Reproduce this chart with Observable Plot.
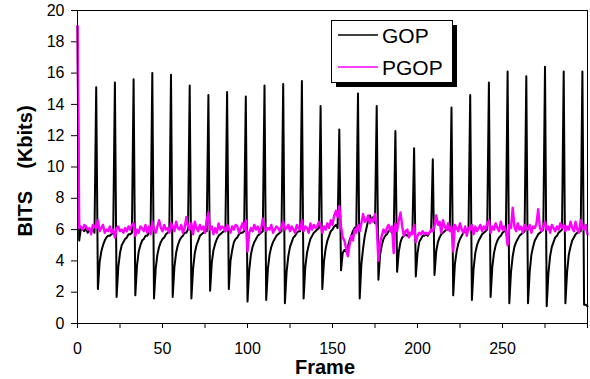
<!DOCTYPE html>
<html>
<head>
<meta charset="utf-8">
<script src="https://cdn.jsdelivr.net/npm/d3@7"></script>
<script src="https://cdn.jsdelivr.net/npm/@observablehq/plot@0.6"></script>
<style>
  html, body { margin: 0; padding: 0; background: white; }
  #chart { width: 590px; height: 379px; }
</style>
</head>
<body>
<div id="chart"></div>
<script>
// Bits per frame (Kbits), frames 0..300, one row per GOP of 11 frames
const gop = [
  19.0, 5.3, 6.1, 6.0, 5.9, 6.1, 5.8, 6.0, 5.9, 6.0, 5.8,
  15.1, 2.2, 3.9, 4.6, 5.0, 5.3, 5.5, 5.6, 5.6, 5.7, 5.8,
  15.4, 1.7, 3.6, 4.5, 5.0, 5.2, 5.4, 5.5, 5.7, 5.7, 5.8,
  15.6, 1.8, 3.7, 4.6, 5.0, 5.3, 5.4, 5.6, 5.6, 5.8, 5.8,
  16.0, 1.6, 3.5, 4.4, 4.9, 5.2, 5.4, 5.5, 5.7, 5.8, 5.9,
  15.9, 1.7, 3.6, 4.5, 5.0, 5.3, 5.5, 5.6, 5.8, 5.8, 6.0,
  15.2, 1.6, 3.5, 4.5, 5.0, 5.3, 5.6, 5.7, 5.8, 5.9, 5.9,
  14.6, 2.1, 3.9, 4.7, 5.1, 5.4, 5.6, 5.7, 5.8, 5.9, 5.9,
  14.8, 2.2, 4.0, 4.7, 5.2, 5.4, 5.5, 5.7, 5.8, 5.8, 5.9,
  14.5, 1.4, 3.4, 4.4, 4.9, 5.2, 5.4, 5.6, 5.7, 5.8, 5.9,
  15.2, 1.5, 3.5, 4.4, 4.9, 5.2, 5.4, 5.6, 5.7, 5.8, 5.9,
  15.3, 1.3, 3.3, 4.3, 4.9, 5.2, 5.5, 5.6, 5.8, 5.9, 5.9,
  15.5, 1.6, 3.6, 4.5, 5.0, 5.4, 5.6, 5.8, 5.9, 6.0, 6.1,
  13.9, 2.2, 4.0, 4.8, 5.3, 5.6, 5.9, 6.0, 6.2, 6.3, 6.1,
  12.4, 3.4, 4.5, 4.7, 4.6, 4.9, 5.3, 5.6, 5.9, 6.1, 6.2,
  14.7, 1.6, 3.8, 4.8, 5.6, 6.1, 6.6, 6.9, 6.6, 6.8, 6.4,
  13.9, 2.8, 4.4, 5.0, 5.4, 5.6, 5.7, 5.9, 6.0, 5.8, 5.6,
  12.3, 3.3, 4.6, 5.2, 5.5, 5.6, 5.7, 5.6, 5.8, 5.7, 5.8,
  11.2, 3.0, 4.5, 5.2, 5.4, 5.6, 5.6, 5.7, 5.6, 5.8, 5.9,
  10.5, 3.1, 4.6, 5.2, 5.5, 5.7, 5.8, 5.9, 6.0, 6.0, 6.1,
  13.8, 1.8, 3.8, 4.6, 5.1, 5.4, 5.6, 5.8, 5.9, 6.0, 6.0,
  14.6, 1.5, 3.5, 4.5, 5.0, 5.3, 5.5, 5.7, 5.8, 5.9, 6.0,
  15.4, 1.7, 3.6, 4.5, 5.0, 5.3, 5.5, 5.6, 5.8, 5.9, 5.9,
  16.1, 1.3, 3.3, 4.3, 4.9, 5.2, 5.4, 5.6, 5.7, 5.8, 5.9,
  15.8, 1.3, 3.3, 4.4, 4.9, 5.3, 5.5, 5.7, 5.8, 5.9, 6.0,
  16.4, 1.1, 3.2, 4.3, 4.9, 5.2, 5.5, 5.6, 5.8, 5.9, 6.0,
  16.1, 1.3, 3.3, 4.4, 4.9, 5.3, 5.5, 5.7, 5.8, 5.9, 5.9,
  16.1, 1.2, 1.2, 1.1
];
const pgop = [
  19.0, 6.1, 6.2, 6.0, 6.3, 6.2, 6.0, 6.1, 5.7, 6.3, 6.2,
  6.1, 6.6, 5.9, 6.1, 6.3, 5.8, 6.0, 5.9, 6.2, 5.8, 6.0,
  5.5, 6.1, 6.2, 5.9, 6.0, 5.8, 6.1, 5.9, 6.2, 6.0, 6.3,
  6.4, 5.6, 6.0, 5.8, 6.2, 6.1, 5.9, 6.3, 5.8, 6.2, 5.7,
  6.5, 6.0, 5.8, 6.2, 6.6, 6.1, 5.9, 6.3, 6.0, 6.1, 5.8,
  6.4, 6.2, 5.9, 6.5, 6.1, 6.0, 6.3, 5.8, 6.1, 6.8, 6.2,
  6.0, 6.4, 5.7, 6.5, 6.1, 5.9, 6.3, 6.0, 6.2, 5.8, 6.6,
  7.1, 6.0, 6.2, 5.7, 6.1, 5.8, 6.4, 6.0, 6.2, 6.1, 5.9,
  6.3, 6.1, 5.8, 6.2, 6.0, 6.3, 6.2, 5.8, 6.1, 6.4, 6.0,
  6.6, 4.6, 5.8, 6.1, 5.9, 6.3, 6.0, 6.2, 5.8, 6.1, 6.7,
  6.2, 5.9, 6.1, 6.0, 6.3, 5.8, 6.0, 6.2, 6.1, 5.9, 6.2,
  6.5, 6.0, 6.1, 6.3, 5.9, 6.2, 6.0, 5.8, 6.3, 6.1, 6.0,
  6.6, 5.9, 6.2, 6.1, 5.8, 6.4, 6.0, 6.3, 6.1, 6.2, 6.5,
  6.3, 5.8, 6.2, 6.0, 6.4, 6.1, 6.6, 6.3, 6.9, 7.2, 6.8,
  7.5, 6.2, 5.5, 5.3, 4.8, 4.3, 5.0, 5.6, 5.3, 6.0, 5.8,
  6.3, 5.9, 6.4, 7.0, 6.5, 6.6, 6.9, 6.4, 6.7, 6.5, 7.0,
  6.2, 4.0, 5.2, 5.6, 6.0, 5.8, 6.1, 6.3, 5.9, 6.2, 4.5,
  6.4, 5.9, 6.6, 7.1, 6.2, 5.6, 5.9, 6.0, 5.5, 5.8, 5.7,
  6.3, 5.2, 5.6, 5.8, 5.7, 5.9, 5.7, 5.8, 5.7, 5.8, 6.0,
  5.9, 6.2, 6.9, 6.3, 6.5, 5.8, 6.6, 6.2, 6.0, 6.4, 5.9,
  6.2, 4.6, 6.3, 6.1, 5.9, 6.4, 6.0, 5.8, 6.2, 5.6, 6.1,
  6.0, 6.3, 5.7, 6.2, 5.9, 6.1, 6.3, 5.9, 6.2, 6.0, 6.4,
  6.6, 5.8, 6.2, 6.0, 6.4, 6.1, 5.9, 6.5, 6.0, 6.2, 5.9,
  5.0, 6.3, 6.1, 7.4, 6.2, 5.9, 6.4, 6.0, 6.2, 5.8, 6.3,
  6.1, 6.0, 6.3, 5.8, 6.2, 6.1, 6.4, 7.3, 6.1, 5.9, 6.2,
  6.5, 6.0, 6.2, 5.8, 6.3, 6.1, 5.9, 6.2, 6.0, 6.4, 6.1,
  6.3, 5.9, 6.2, 6.0, 6.5, 6.1, 5.9, 6.5, 6.0, 5.8, 6.6,
  6.2, 6.0, 6.3, 5.7
];
const seriesNames = ["GOP", "PGOP"];
const seriesColors = ["#000000", "#ff00ff"];
const xTickMarks = [0, 25, 50, 75, 100, 125, 150, 175, 200, 225, 250, 275, 300];
const xTickLabels = [0, 50, 100, 150, 200, 250];
const yTicks = [0, 2, 4, 6, 8, 10, 12, 14, 16, 18, 20];

const rows = [];
gop.forEach((v, i) => rows.push({frame: i, bits: v, series: seriesNames[0]}));
pgop.forEach((v, i) => rows.push({frame: i, bits: v, series: seriesNames[1]}));

const font = "'Liberation Sans', Arial, sans-serif";

const plot = Plot.plot({
  width: 590,
  height: 379,
  marginLeft: 77,
  marginRight: 3,
  marginTop: 10,
  marginBottom: 56,
  style: {fontFamily: font, color: "black", background: "white", overflow: "visible"},
  x: {domain: [0, 300]},
  y: {domain: [0, 20]},
  marks: [
    Plot.axisY({ticks: yTicks, tickSize: 6, tickPadding: 7, fontSize: 16, label: null, stroke: "black", fill: "black"}),
    Plot.axisX({ticks: xTickMarks, tickSize: 5, tickFormat: () => "", label: null, stroke: "black"}),
    Plot.axisX({ticks: xTickLabels, tickSize: 0, tickPadding: 19, fontSize: 16, label: null, fill: "black"}),
    Plot.line(rows.filter(d => d.series === seriesNames[0]), {x: "frame", y: "bits", stroke: seriesColors[0], strokeWidth: 2}),
    Plot.line(rows.filter(d => d.series === seriesNames[1]), {x: "frame", y: "bits", stroke: seriesColors[1], strokeWidth: 2.4}),
    Plot.frame({stroke: "black", strokeWidth: 1})
  ]
});

document.getElementById("chart").appendChild(plot);

const svg = d3.select(plot);
// Axis titles
svg.append("text")
  .attr("x", 325).attr("y", 374)
  .attr("text-anchor", "middle")
  .attr("font-family", font).attr("font-size", 20).attr("font-weight", "bold")
  .attr("fill", "black")
  .text("Frame");
svg.append("text")
  .attr("transform", "translate(32,171) rotate(-90)")
  .attr("text-anchor", "middle")
  .attr("font-family", font).attr("font-size", 20).attr("font-weight", "bold")
  .attr("fill", "black")
  .style("white-space", "pre")
  .text("BITS    (Kbits)");

// Legend
const lg = svg.append("g").attr("transform", "translate(331,20)");
lg.append("rect").attr("x", 5).attr("y", 5).attr("width", 121).attr("height", 62).attr("fill", "black");
lg.append("rect").attr("x", 0.5).attr("y", 0.5).attr("width", 121).attr("height", 62).attr("fill", "white").attr("stroke", "black");
seriesNames.forEach((name, i) => {
  const cy = 15 + i * 32;
  lg.append("line").attr("x1", 7).attr("x2", 47).attr("y1", cy).attr("y2", cy)
    .attr("stroke", seriesColors[i]).attr("stroke-width", 1.6);
  lg.append("text").attr("x", 51).attr("y", cy + 8)
    .attr("text-anchor", "start")
    .attr("font-family", font).attr("font-size", 21).attr("fill", "black")
    .text(name);
});
</script>
</body>
</html>
